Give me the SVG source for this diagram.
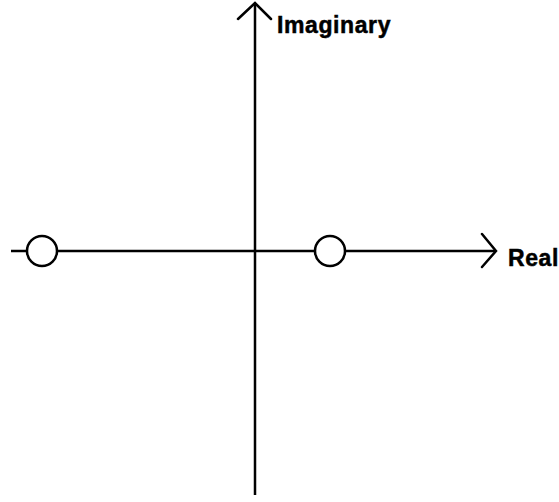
<svg xmlns="http://www.w3.org/2000/svg" width="559" height="502" viewBox="0 0 559 502">
<style>
.ax{stroke:#000;stroke-width:2.5;fill:none}
.head{stroke:#000;stroke-width:2.5;fill:none;stroke-linecap:round;stroke-linejoin:miter}
.pole{stroke:#000;stroke-width:2.5;fill:#fff}
.lbl{font-family:"Liberation Sans",Arial,sans-serif;font-weight:bold;font-size:23px;fill:#000;stroke:#000;stroke-width:0.5;letter-spacing:0.6px}
</style>
<rect width="559" height="502" fill="#fff"/>
<g id="connectors">
<line class="ax" x1="11" y1="251" x2="495" y2="251"/>
<polyline class="head" points="482,234 496,251 482,267"/>
<line class="ax" x1="255" y1="495" x2="255" y2="3"/>
<polyline class="head" points="238,19 255,3 271,19"/>
</g>
<g id="pole-left"><circle class="pole" cx="42" cy="251" r="15"/></g>
<g id="pole-right"><circle class="pole" cx="330" cy="251" r="15"/></g>
<g id="label-imaginary"><text class="lbl" x="277" y="33">Imaginary</text></g>
<g id="label-real"><text class="lbl" x="508" y="266">Real</text></g>
</svg>
